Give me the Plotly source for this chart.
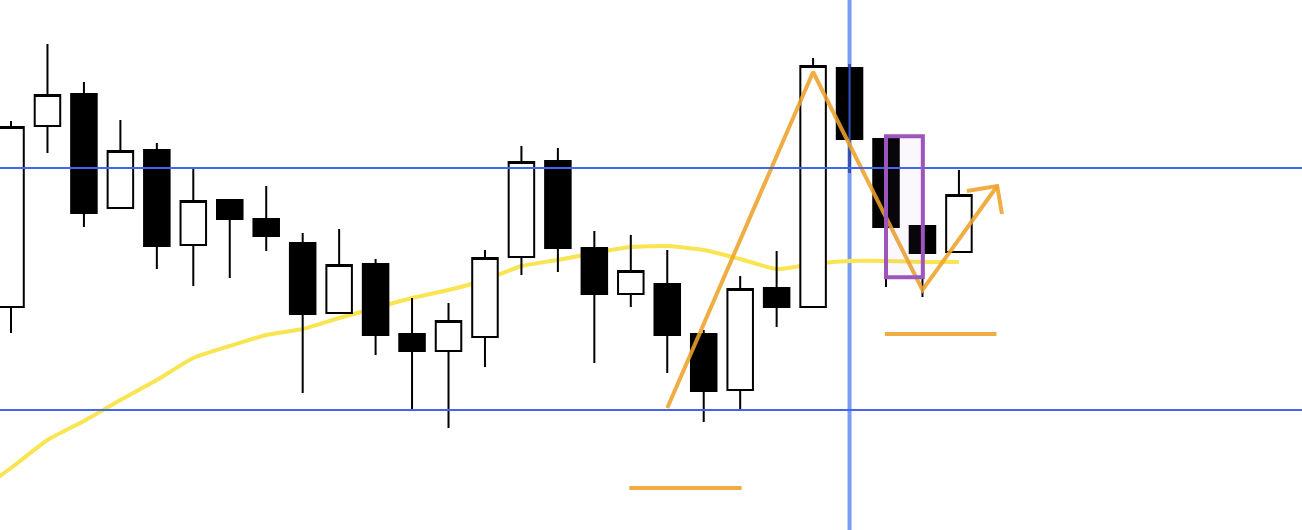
import plotly.graph_objects as go

# ---- candle data (index positions 0..26) ----
idx = list(range(27))
opens = [223, 404, 436, 322, 380, 285, 330, 311, 287, 217, 266, 196, 179, 193, 273, 369, 282, 236, 246, 196, 140, 242, 223, 462, 391, 304, 278]
highs = [409, 486, 448, 410, 387, 362, 330, 344, 297, 301, 271, 232, 227, 280, 384, 382, 299, 295, 280, 200, 254, 279, 472, 466, 391, 312, 360]
lows = [197, 377, 303, 322, 261, 244, 252, 279, 137, 217, 175, 121, 102, 163, 255, 258, 167, 223, 157, 108, 121, 203, 223, 357, 243, 233, 278]
closes = [403, 435, 317, 379, 284, 329, 311, 294, 216, 265, 195, 179, 209, 272, 368, 282, 236, 259, 195, 139, 241, 223, 464, 391, 303, 277, 335]

# ---- moving average ----
ma_x = list(range(-1, 27))
ma_y = [36, 62, 90, 109, 130, 150, 172, 184, 195, 201, 212, 222, 232, 240, 250, 264, 270, 277, 283, 284, 280, 271, 261, 266, 269, 269, 268, 268]

# ---- horizontal levels and vertical marker ----
levels = [362, 120]
marker_idx = 23

# ---- orange annotations ----
zigzag_x = [18, 22, 25, 27.05]
zigzag_y = [122, 458, 240, 344]
arrow_x = [26.22, 27.05, 27.18]
arrow_y = [339, 344, 316]
seg1_x = [16.96, 20.04]
seg1_y = [42, 42]
seg2_x = [23.97, 27.03]
seg2_y = [196, 196]

# ---- purple box ----
box_x = [24.0, 25.01]
box_y = [252.7, 393.7]

X_RANGE = [-0.302, 35.41]
Y_RANGE = [0, 530]

fig = go.Figure()

# MA on the base axes (drawn under the candles)
fig.add_trace(go.Scatter(
    x=ma_x, y=ma_y, mode="lines",
    line=dict(color="#f9e452", width=4, shape="spline", smoothing=0.5),
    xaxis="x", yaxis="y", hoverinfo="skip", showlegend=False))

# candles on the overlay axes
fig.add_trace(go.Candlestick(
    x=idx, open=opens, high=highs, low=lows, close=closes,
    increasing=dict(fillcolor="#ffffff", line=dict(color="#000000", width=2)),
    decreasing=dict(fillcolor="#000000", line=dict(color="#000000", width=2)),
    whiskerwidth=0,
    xaxis="x2", yaxis="y2", showlegend=False, hoverinfo="skip"))

# dark wick highlight of the marked candle
fig.add_trace(go.Scatter(
    x=[idx[marker_idx], idx[marker_idx]], y=[lows[marker_idx], highs[marker_idx]],
    mode="lines", line=dict(color="#3350c4", width=2),
    xaxis="x2", yaxis="y2", hoverinfo="skip", showlegend=False))

orange = "rgba(238,162,42,0.88)"
for xs, ys in [(zigzag_x, zigzag_y), (arrow_x, arrow_y), (seg1_x, seg1_y), (seg2_x, seg2_y)]:
    fig.add_trace(go.Scatter(
        x=xs, y=ys, mode="lines",
        line=dict(color=orange, width=4),
        xaxis="x2", yaxis="y2", hoverinfo="skip", showlegend=False))

shapes = []
# vertical marker line (below the traces)
shapes.append(dict(type="line", xref="x", yref="paper", x0=marker_idx, x1=marker_idx, y0=0, y1=1,
                   line=dict(color="#7b9cf5", width=4), layer="below"))
# horizontal levels (above)
for lv in levels:
    shapes.append(dict(type="line", xref="paper", yref="y", x0=0, x1=1, y0=lv, y1=lv,
                       line=dict(color="#4266ee", width=2), layer="above"))
# purple box
shapes.append(dict(type="rect", xref="x", yref="y", x0=box_x[0], x1=box_x[1], y0=box_y[0], y1=box_y[1],
                   line=dict(color="#9b55bb", width=4), fillcolor="rgba(150,90,210,0.05)", layer="above"))

axis_common = dict(visible=False, showgrid=False, zeroline=False, fixedrange=True)
fig.update_layout(
    width=1302, height=530,
    margin=dict(l=0, r=0, t=0, b=0),
    paper_bgcolor="#ffffff", plot_bgcolor="#ffffff",
    showlegend=False,
    boxgap=0.3, boxgroupgap=0,
    xaxis=dict(range=X_RANGE, **axis_common, rangeslider=dict(visible=False)),
    yaxis=dict(range=Y_RANGE, **axis_common),
    xaxis2=dict(range=X_RANGE, overlaying="x", **axis_common, rangeslider=dict(visible=False)),
    yaxis2=dict(range=Y_RANGE, overlaying="y", **axis_common),
    shapes=shapes,
)

fig.write_html(
    "out.html",
    config={"displayModeBar": False, "staticPlot": True},
    post_script="document.body.style.margin='0px';document.body.style.overflow='hidden';",
)
